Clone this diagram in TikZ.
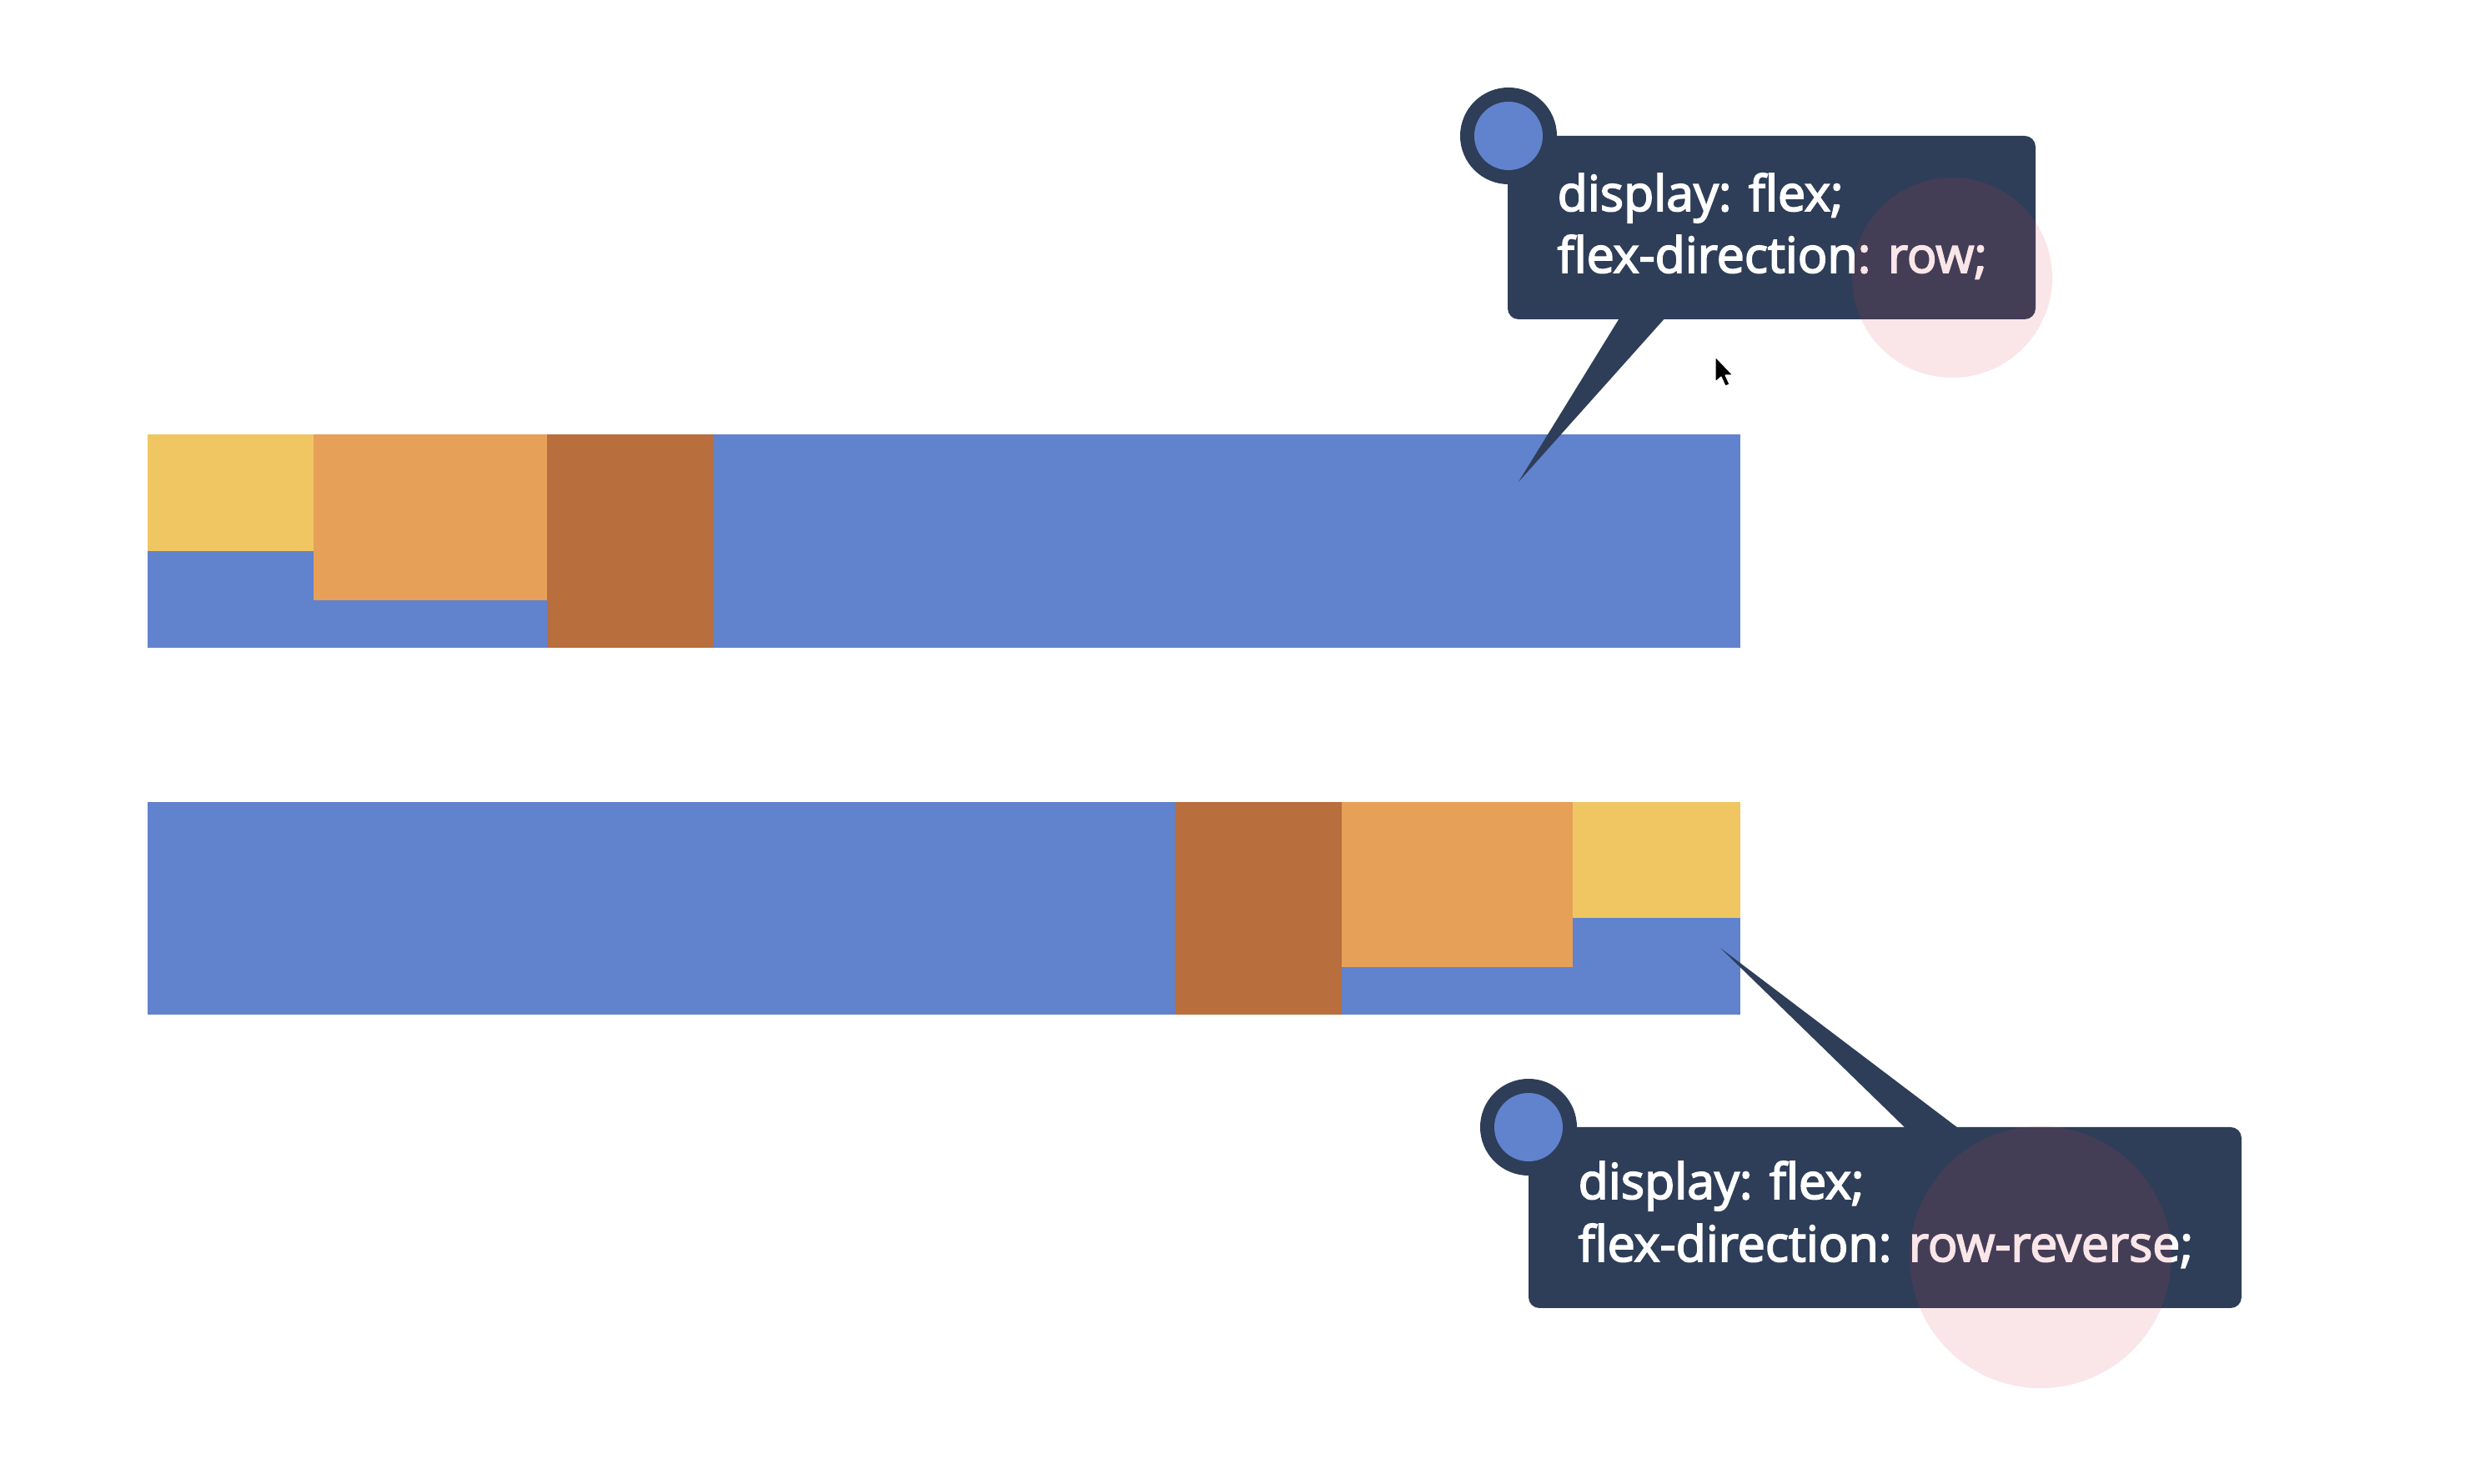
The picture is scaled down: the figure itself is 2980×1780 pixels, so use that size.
\documentclass[tikz,border=0pt]{standalone}
\usepackage{fontspec}
\newfontfamily\calloutfont[FakeBold=3]{Open Sans}
\definecolor{barblue}{HTML}{6182CD}
\definecolor{baryellow}{HTML}{F0C662}
\definecolor{barorange}{HTML}{E6A058}
\definecolor{barbrown}{HTML}{B86E3D}
\definecolor{navy}{HTML}{2E3E58}
\definecolor{clickred}{RGB}{220,60,80}
\tikzset{
  calloutbox/.style={fill=navy, rounded corners=0.13cm},
  codeline/.style={anchor=base west, inner sep=0pt, text=white,
    font=\calloutfont\fontsize{16.8}{20}\selectfont},
  ringouter/.style={fill=navy},
  ringinner/.style={fill=barblue},
  clickmark/.style={fill=clickred, fill opacity=0.13},
}
\begin{document}
\begin{tikzpicture}[x=0.01cm,y=-0.01cm]
\useasboundingbox[fill=white] (0,0) rectangle (2980,1780);

% top bar (row)
\fill[barblue] (177,521) rectangle (2087,777);
\fill[baryellow] (177,521) rectangle (376,661);
\fill[barorange] (376,521) rectangle (656,720);
\fill[barbrown] (656,521) rectangle (855,777);

% bottom bar (row-reverse)
\fill[barblue] (177,962) rectangle (2087,1217);
\fill[barbrown] (1409,962) rectangle (1609,1217);
\fill[barorange] (1609,962) rectangle (1886,1160);
\fill[baryellow] (1886,962) rectangle (2087,1101);

% callout 1
\coordinate (p1tip) at (1821,578);
\fill[navy] (1943,380) -- (p1tip) -- (1998,380) -- cycle;
\fill[calloutbox] (1808,163) rectangle (2441,383);
\fill[ringouter] (1809,163) circle (58);
\fill[ringinner] (1809,163) circle (41);
\node[codeline] (c1a) at (1867,253) {display: flex;};
\node[codeline] (c1b) at (1867,327) {flex-direction: row;};
\fill[clickmark] (2341,333) circle (120);

% callout 2
\coordinate (p2tip) at (2063,1137);
\fill[navy] (2288,1356) -- (p2tip) -- (2352,1356) -- cycle;
\fill[calloutbox] (1833,1352) rectangle (2688,1569);
\fill[ringouter] (1833,1352) circle (58);
\fill[ringinner] (1833,1352) circle (41);
\node[codeline] (c2a) at (1892,1438) {display: flex;};
\node[codeline] (c2b) at (1892,1513) {flex-direction: row-reverse;};
\fill[clickmark] (2447,1508) circle (157);

% mouse cursor
\fill[black, draw=white, line width=0.3pt, line join=round]
  (2057,428) -- (2057,458) -- (2064,452) -- (2069,463) -- (2074,461)
  -- (2069,450) -- (2078,450) -- cycle;
\end{tikzpicture}
\end{document}
